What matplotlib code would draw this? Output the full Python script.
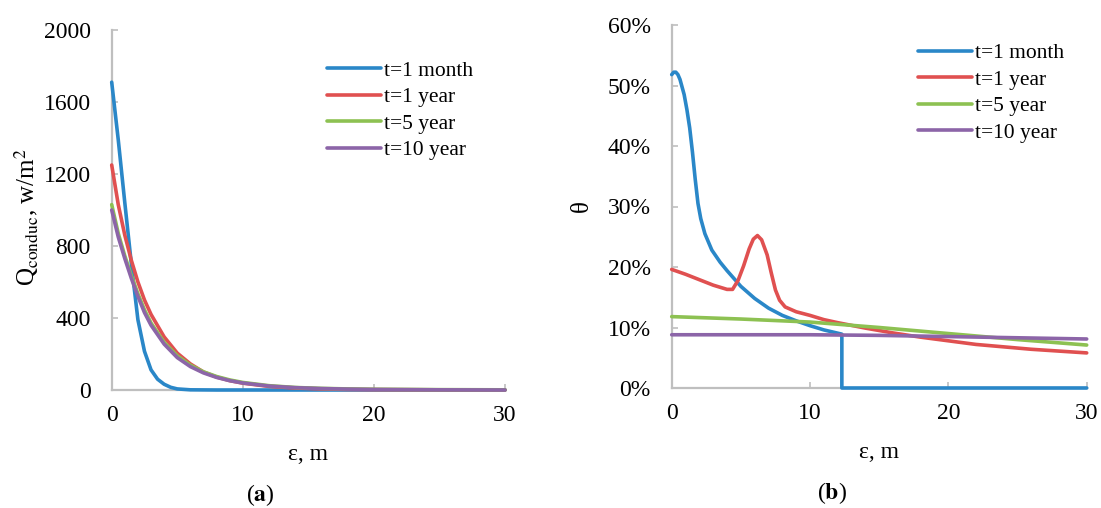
import matplotlib
matplotlib.use("Agg")
import matplotlib.pyplot as plt
from matplotlib.ticker import PercentFormatter

plt.rcParams["font.family"] = ["Liberation Serif", "DejaVu Serif"]
plt.rcParams["mathtext.fontset"] = "stix"

labels = ["t=1 month", "t=1 year", "t=5 year", "t=10 year"]
colors = ["#2a87c8", "#e05050", "#8dc152", "#8c65a8"]

# (a) conductive heat flux, w/m2
q_month_x = [0, 0.5, 1.0, 1.5, 2.0, 2.5, 3.0, 3.5, 4.0, 4.5, 5.0, 6.0, 8.0, 30]
q_month_y = [1710, 1390, 1040, 700, 390, 215, 112, 60, 32, 15, 6, 1, 0, 0]
q_x = [0, 0.5, 1, 1.5, 2, 2.5, 3, 4, 5, 6, 7, 8, 9, 10, 12, 14, 16, 18, 20, 25, 30]
q_year1 = [1250, 1030, 860, 720, 600, 500, 420, 295, 205, 145, 100, 72, 52, 38, 20, 11, 6, 3, 2, 1, 0]
q_year5 = [1030, 870, 745, 635, 535, 445, 372, 265, 190, 138, 101, 75, 56, 42, 24, 14, 9, 6, 4, 2, 1]
q_year10 = [1000, 850, 730, 620, 520, 430, 360, 255, 180, 130, 95, 70, 52, 39, 22, 13, 8, 5, 3, 1, 0]

# (b) theta, %
th_month_x = [0, 0.15, 0.3, 0.45, 0.6, 0.9, 1.1, 1.3, 1.5, 1.7, 1.9, 2.1, 2.4, 2.9, 3.5, 4.0, 5.0, 6.0,
              7.0, 8.0, 9.0, 10.0, 11.0, 12.3, 12.3, 30]
th_month_y = [51.8, 52.2, 52.2, 51.8, 51.0, 48.5, 46.0, 43.0, 39.0, 34.5, 30.5, 28.0, 25.5, 22.8, 20.8,
              19.4, 16.8, 14.8, 13.2, 12.0, 11.1, 10.3, 9.6, 8.9, 0, 0]
th_year1_x = [0, 1, 2, 3, 4, 4.4, 4.8, 5.2, 5.6, 5.9, 6.2, 6.5, 6.9, 7.2, 7.5, 7.8, 8.2, 9, 10, 11, 12,
              14, 16, 18, 20, 22, 24, 26, 28, 30]
th_year1_y = [19.6, 18.8, 17.9, 17.0, 16.3, 16.3, 17.8, 20.2, 23.0, 24.6, 25.2, 24.5, 22.0, 19.0, 16.2,
              14.5, 13.4, 12.6, 12.0, 11.3, 10.8, 9.9, 9.1, 8.4, 7.8, 7.2, 6.8, 6.4, 6.1, 5.8]
th_x = [0, 5, 10, 15, 20, 25, 30]
th_year5 = [11.8, 11.4, 10.9, 10.0, 9.0, 8.0, 7.1]
th_year10 = [8.8, 8.8, 8.8, 8.7, 8.5, 8.3, 8.1]

W, H = 1101, 508
fig = plt.figure(figsize=(W / 100, H / 100), dpi=100)
ax1 = fig.add_axes([111.7 / W, (H - 390) / H, 393.3 / W, 360 / H])
ax2 = fig.add_axes([671.7 / W, (H - 388) / H, 415 / W, 363 / H])

lw = 2.6
series_a = [(q_month_x, q_month_y), (q_x, q_year1), (q_x, q_year5), (q_x, q_year10)]
for (xs, ys), lab, c in zip(series_a, labels, colors):
    ax1.plot(xs, ys, color=c, lw=lw, label=lab, solid_capstyle="round", clip_on=False, zorder=3)

series_b = [(th_month_x, th_month_y), (th_year1_x, th_year1_y), (th_x, th_year5), (th_x, th_year10)]
for (xs, ys), lab, c in zip(series_b, labels, colors):
    ax2.plot(xs, ys, color=c, lw=lw, label=lab, solid_capstyle="round", clip_on=False, zorder=3)

ax1.set_xlim(0, 30)
ax1.set_ylim(0, 2000)
ax1.set_xticks([0, 10, 20, 30])
ax1.set_yticks([0, 400, 800, 1200, 1600, 2000])

ax2.set_xlim(0, 30)
ax2.set_ylim(0, 60)
ax2.set_xticks([0, 10, 20, 30])
ax2.set_yticks([0, 10, 20, 30, 40, 50, 60])
ax2.yaxis.set_major_formatter(PercentFormatter(xmax=100, decimals=0))

for ax in (ax1, ax2):
    for side in ("top", "right"):
        ax.spines[side].set_visible(False)
    for side in ("left", "bottom"):
        ax.spines[side].set_color("#bfbfbf")
        ax.spines[side].set_linewidth(1.6)
    ax.tick_params(direction="in", length=4, width=1.2, color="#bfbfbf", labelsize=17, labelcolor="black")
    ax.tick_params(axis="x", pad=11)
    ax.tick_params(axis="y", pad=15)
    ax.set_xlabel("ε, m", fontsize=17, labelpad=13)

ax1.set_ylabel(r"Q$_{\mathrm{conduc}}$, w/m$^{2}$", fontsize=18)
ax1.yaxis.set_label_coords(-0.18, 0.48)
ax2.set_ylabel("θ", fontsize=18)
ax2.yaxis.set_label_coords(-0.19, 0.5)

leg_kw = dict(frameon=False, fontsize=15.5, handlelength=2.5, handletextpad=0.15,
              labelspacing=0.3, borderpad=0, borderaxespad=0, loc="upper left")
ax1.legend(bbox_to_anchor=(0.547, 0.915), **leg_kw)
ax2.legend(bbox_to_anchor=(0.593, 0.95), **leg_kw)

fig.text(260 / W, (H - 495) / H, r"($\mathbf{a}$)", fontsize=17, ha="center", va="center")
fig.text(832 / W, (H - 493) / H, r"($\mathbf{b}$)", fontsize=17, ha="center", va="center")

fig.savefig("out.png", dpi=100)
